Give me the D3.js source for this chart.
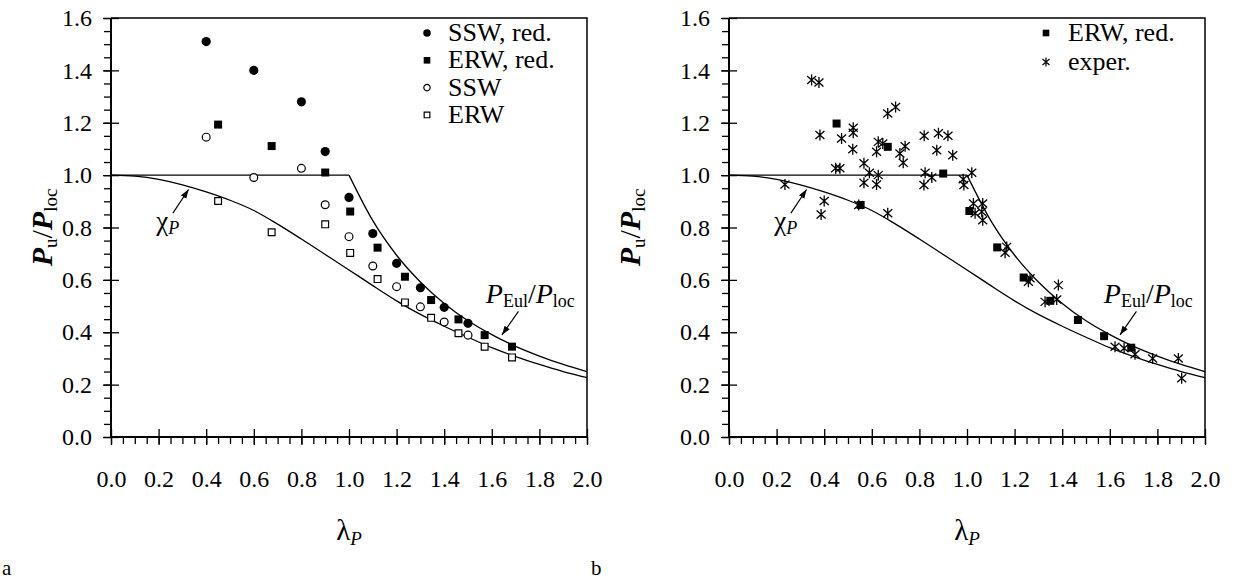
<!DOCTYPE html>
<html>
<head>
<meta charset="utf-8">
<script src="https://cdn.jsdelivr.net/npm/d3@7"></script>
<style>
  body { margin: 0; background: #fff; }
  svg { display: block; font-family: "Liberation Serif", "Times New Roman", serif; }
</style>
</head>
<body>
<svg id="chart" width="1233" height="579"></svg>
<script>
// --- curves ---
var chiLambda = [0, 0.1, 0.2, 0.3, 0.4, 0.5, 0.6, 0.7, 0.8, 0.9, 1.0, 1.1, 1.2, 1.3, 1.4, 1.5, 1.6, 1.7, 1.8, 1.9, 2.0];
var chiValue  = [1.0, 0.996, 0.984, 0.963, 0.936, 0.904, 0.865, 0.813, 0.756, 0.697, 0.638, 0.578, 0.520, 0.468, 0.423, 0.381, 0.341, 0.307, 0.277, 0.250, 0.227];
var plateauLambda = [0, 1.0];
var plateauValue  = [1.0, 1.0];
var eulLambda = [1.0, 1.1, 1.2, 1.3, 1.4, 1.5, 1.6, 1.7, 1.8, 1.9, 2.0];
var eulValue  = [1.0, 0.826, 0.694, 0.592, 0.510, 0.444, 0.391, 0.346, 0.309, 0.277, 0.25];

// --- panel a ---
var sswRedL = [0.40, 0.60, 0.80, 0.90, 1.00, 1.10, 1.20, 1.30, 1.40, 1.50];
var sswRedV = [1.51, 1.40, 1.28, 1.09, 0.915, 0.777, 0.663, 0.570, 0.495, 0.434];
var erwRedL = [0.45, 0.675, 0.90, 1.005, 1.12, 1.235, 1.345, 1.46, 1.57, 1.685];
var erwRedV = [1.193, 1.111, 1.010, 0.861, 0.723, 0.612, 0.523, 0.449, 0.389, 0.345];
var sswL = [0.40, 0.60, 0.80, 0.90, 1.00, 1.10, 1.20, 1.30, 1.40, 1.50];
var sswV = [1.145, 0.991, 1.026, 0.887, 0.765, 0.653, 0.574, 0.497, 0.439, 0.389];
var erwL = [0.45, 0.675, 0.90, 1.005, 1.12, 1.235, 1.345, 1.46, 1.57, 1.685];
var erwV = [0.901, 0.782, 0.812, 0.703, 0.603, 0.514, 0.455, 0.396, 0.345, 0.304];

// --- panel b ---
var erwRedBL = [0.452, 0.553, 0.667, 0.90, 1.01, 1.127, 1.238, 1.35, 1.466, 1.576, 1.69];
var erwRedBV = [1.197, 0.886, 1.108, 1.006, 0.863, 0.724, 0.609, 0.520, 0.447, 0.385, 0.341];
var experL = [0.235, 0.347, 0.378, 0.382, 0.387, 0.400, 0.448, 0.466, 0.473, 0.522, 0.522, 0.52,
              0.567, 0.567, 0.59, 0.627, 0.62, 0.627, 0.62, 0.667, 0.667, 0.646, 0.70, 0.718, 0.732,
              0.74, 0.82, 0.873, 0.88, 0.92, 0.94, 0.824, 0.852, 0.819, 0.984, 0.987, 1.02, 1.027,
              1.066, 1.034, 1.062, 1.066, 1.167, 1.16, 1.265, 1.258, 1.384, 1.328, 1.377, 1.622,
              1.66, 1.706, 1.78, 1.888, 1.902, 0.545];
var experV = [0.964, 1.363, 1.354, 1.153, 0.850, 0.901, 1.026, 1.026, 1.140, 1.181, 1.162, 1.099,
              1.045, 0.971, 1.009, 1.127, 1.089, 1.0, 0.964, 1.235, 0.854, 1.121, 1.26, 1.083, 1.047,
              1.11, 1.15, 1.095, 1.16, 1.15, 1.076, 1.009, 0.991, 0.962, 0.984, 0.962, 1.009, 0.892,
              0.892, 0.854, 0.860, 0.828, 0.726, 0.704, 0.606, 0.593, 0.580, 0.516, 0.525, 0.345,
              0.339, 0.316, 0.30, 0.30, 0.224, 0.886];

var xTicks = d3.range(0, 2.001, 0.2);
var yTicks = d3.range(0, 1.601, 0.2);
var xMinor = d3.range(0, 2.001, 0.05);
var yMinor = d3.range(0, 1.601, 0.05);

var svg = d3.select('#chart');
var fmt = d3.format('.1f');
var SERIF = '"Liberation Serif", "Times New Roman", serif';

function pairs(a, b) { return a.map(function (v, i) { return [v, b[i]]; }); }

function drawPanel(left, titleX, letter, letterX) {
  var x = d3.scaleLinear().domain([0, 2]).range([left, left + 476]);
  var y = d3.scaleLinear().domain([0, 1.6]).range([437, 18]);
  var g = svg.append('g');

  // frame (top, right thin)
  g.append('path')
    .attr('d', 'M' + x(0) + ',' + y(1.6) + 'H' + x(2) + 'V' + y(0))
    .attr('fill', 'none').attr('stroke', '#000').attr('stroke-width', 1.5);

  // minor ticks (outward)
  g.append('g').attr('transform', 'translate(0,' + y(0) + ')')
    .call(d3.axisBottom(x).tickValues(xMinor).tickSize(7).tickFormat(''))
    .call(function (s) { s.select('.domain').remove(); });
  g.append('g').attr('transform', 'translate(' + x(0) + ',0)')
    .call(d3.axisLeft(y).tickValues(yMinor).tickSize(7).tickFormat(''))
    .call(function (s) { s.select('.domain').remove(); });
  // major ticks crossing the axis
  g.append('g').attr('transform', 'translate(0,' + (y(0) - 8) + ')')
    .call(d3.axisBottom(x).tickValues(xTicks).tickSize(16).tickFormat(''))
    .call(function (s) { s.select('.domain').remove(); });
  g.append('g').attr('transform', 'translate(' + (x(0) + 8) + ',0)')
    .call(d3.axisLeft(y).tickValues(yTicks).tickSize(16).tickFormat(''))
    .call(function (s) { s.select('.domain').remove(); });
  g.selectAll('.tick line').attr('stroke-width', 1.3);

  // tick labels
  var xl = g.append('g').attr('transform', 'translate(0,' + y(0) + ')')
    .call(d3.axisBottom(x).tickValues(xTicks).tickSize(0).tickPadding(33).tickFormat(fmt));
  xl.select('.domain').remove();
  xl.selectAll('text').style('font-size', '24px').style('font-family', SERIF);
  var yl = g.append('g').attr('transform', 'translate(' + x(0) + ',0)')
    .call(d3.axisLeft(y).tickValues(yTicks).tickSize(0).tickPadding(19).tickFormat(fmt));
  yl.select('.domain').remove();
  yl.selectAll('text').style('font-size', '24px').style('font-family', SERIF);

  // axis lines
  g.append('path')
    .attr('d', 'M' + x(0) + ',' + y(1.6) + 'V' + y(0) + 'H' + x(2))
    .attr('fill', 'none').attr('stroke', '#000').attr('stroke-width', 2);

  // curves
  var line = d3.line().x(function (d) { return x(d[0]); }).y(function (d) { return y(d[1]); });
  g.append('path').datum(pairs(chiLambda, chiValue))
    .attr('d', line.curve(d3.curveMonotoneX))
    .attr('fill', 'none').attr('stroke', '#000').attr('stroke-width', 1.3);
  g.append('path').datum(pairs(plateauLambda, plateauValue))
    .attr('d', line.curve(d3.curveLinear))
    .attr('fill', 'none').attr('stroke', '#000').attr('stroke-width', 1.3);
  g.append('path').datum(pairs(eulLambda, eulValue))
    .attr('d', line.curve(d3.curveMonotoneX))
    .attr('fill', 'none').attr('stroke', '#000').attr('stroke-width', 1.3);

  // annotations
  g.append('line')
    .attr('x1', x(0.26)).attr('y1', y(0.855)).attr('x2', x(0.326)).attr('y2', y(0.945))
    .attr('stroke', '#000').attr('stroke-width', 1.2).attr('marker-end', 'url(#arr)');
  var chi = g.append('text').attr('x', x(0.19)).attr('y', y(0.79)).attr('font-size', 27);
  chi.append('tspan').text('χ');
  chi.append('tspan').attr('font-style', 'italic').attr('font-size', 18).attr('dy', 4).text('P');

  g.append('line')
    .attr('x1', x(1.712)).attr('y1', y(0.48)).attr('x2', x(1.643)).attr('y2', y(0.39))
    .attr('stroke', '#000').attr('stroke-width', 1.2).attr('marker-end', 'url(#arr)');
  var eul = g.append('text').attr('x', x(1.575)).attr('y', y(0.513)).attr('font-size', 28);
  eul.append('tspan').attr('font-style', 'italic').text('P');
  eul.append('tspan').attr('font-size', 18).attr('dy', 4).text('Eul');
  eul.append('tspan').attr('dy', -4).text('/');
  eul.append('tspan').attr('font-style', 'italic').text('P');
  eul.append('tspan').attr('font-size', 18).attr('dy', 4).text('loc');

  // axis titles
  var xt = g.append('text').attr('x', x(1)).attr('y', 540).attr('text-anchor', 'middle').attr('font-size', 29);
  xt.append('tspan').text('λ');
  xt.append('tspan').attr('font-style', 'italic').attr('font-size', 19).attr('dy', 5).text('P');

  var yt = g.append('text')
    .attr('transform', 'translate(' + titleX + ',' + y(0.8) + ') rotate(-90)')
    .attr('text-anchor', 'middle').attr('font-size', 30);
  yt.append('tspan').attr('font-style', 'italic').attr('font-weight', 'bold').text('P');
  yt.append('tspan').attr('font-size', 19).attr('dy', 5).text('u');
  yt.append('tspan').attr('dy', -5).text('/');
  yt.append('tspan').attr('font-style', 'italic').attr('font-weight', 'bold').text('P');
  yt.append('tspan').attr('font-size', 19).attr('dy', 5).text('loc');

  svg.append('text').attr('x', letterX).attr('y', 575).attr('font-size', 21).text(letter);

  return { g: g, x: x, y: y };
}

// arrow head
svg.append('defs').append('marker')
  .attr('id', 'arr').attr('viewBox', '0 0 10 10').attr('refX', 10).attr('refY', 5)
  .attr('markerWidth', 9).attr('markerHeight', 9).attr('markerUnits', 'userSpaceOnUse')
  .attr('orient', 'auto')
  .append('path').attr('d', 'M0,1.5L10,5L0,8.5Z').attr('fill', '#000');

var sq = d3.symbol().type(d3.symbolSquare).size(64);
var sqOpen = d3.symbol().type(d3.symbolSquare).size(46);
var dot = d3.symbol().type(d3.symbolCircle).size(66);
var dotOpen = d3.symbol().type(d3.symbolCircle).size(48);
var star = 'M0,-5.5V5.5M-4.5,-4L4.5,4M-4.5,4L4.5,-4';

function markers(p, L, V, path, filled) {
  p.g.append('g').selectAll('path').data(pairs(L, V)).join('path')
    .attr('transform', function (d) { return 'translate(' + p.x(d[0]) + ',' + p.y(d[1]) + ')'; })
    .attr('d', path)
    .attr('fill', filled ? '#000' : '#fff')
    .attr('stroke', '#000').attr('stroke-width', filled ? 0 : 1.2);
}

function legend(items, mx, tx, y0, dy) {
  var lg = svg.append('g');
  items.forEach(function (it, i) {
    var yy = y0 + i * dy;
    lg.append('path').attr('transform', 'translate(' + mx + ',' + yy + ')')
      .attr('d', it.path).attr('fill', it.fill).attr('stroke', '#000')
      .attr('stroke-width', it.sw);
    lg.append('text').attr('x', tx).attr('y', yy + 8).attr('font-size', 26).text(it.label);
  });
}

var pa = drawPanel(111, 52, 'a', 2);
markers(pa, erwL, erwV, sqOpen(), false);
markers(pa, sswL, sswV, dotOpen(), false);
markers(pa, erwRedL, erwRedV, sq(), true);
markers(pa, sswRedL, sswRedV, dot(), true);
legend([
  { path: d3.symbol().type(d3.symbolCircle).size(44)(), fill: '#000', sw: 0, label: 'SSW, red.' },
  { path: d3.symbol().type(d3.symbolSquare).size(44)(), fill: '#000', sw: 0, label: 'ERW, red.' },
  { path: d3.symbol().type(d3.symbolCircle).size(32)(), fill: '#fff', sw: 1.2, label: 'SSW' },
  { path: d3.symbol().type(d3.symbolSquare).size(32)(), fill: '#fff', sw: 1.2, label: 'ERW' }
], 427, 448, 33, 27.3);

var pb = drawPanel(729, 640, 'b', 591);
pb.g.append('g').selectAll('path').data(pairs(experL, experV)).join('path')
  .attr('transform', function (d) { return 'translate(' + pb.x(d[0]) + ',' + pb.y(d[1]) + ')'; })
  .attr('d', star).attr('fill', 'none').attr('stroke', '#000').attr('stroke-width', 1.3);
markers(pb, erwRedBL, erwRedBV, sq(), true);
legend([
  { path: d3.symbol().type(d3.symbolSquare).size(44)(), fill: '#000', sw: 0, label: 'ERW, red.' },
  { path: 'M0,-4.5V4.5M-3.5,-3L3.5,3M-3.5,3L3.5,-3', fill: 'none', sw: 1.2, label: 'exper.' }
], 1046, 1068, 33, 29);
</script>
</body>
</html>
